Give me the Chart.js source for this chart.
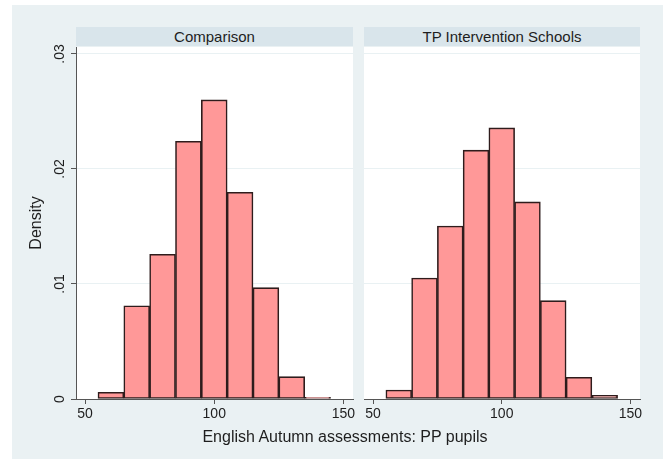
<!DOCTYPE html>
<html>
<head>
<meta charset="utf-8">
<script src="https://cdn.jsdelivr.net/npm/chart.js@4.4.0/dist/chart.umd.min.js"></script>
<style>
  html, body { margin: 0; padding: 0; background: #ffffff; }
  #stage { position: relative; width: 669px; height: 459px; overflow: hidden; font-family: "Liberation Sans", Arial, sans-serif; }
  #bg { position: absolute; left: 12px; top: 5px; width: 651px; height: 454px; background: #eaf1f3; }
  .strip { position: absolute; top: 27px; height: 19px; background: #d9e5eb; color: #1e1e1e;
           font-size: 15px; line-height: 19px; text-align: center; }
  canvas { position: absolute; top: 0; }
  #xtitle { position: absolute; left: 145px; width: 400px; top: 427px; text-align: center;
            font-size: 16px; line-height: 19px; color: #1e1e1e; }
</style>
</head>
<body>
<div id="stage">
  <div id="bg"></div>
  <div class="strip" style="left:76px;width:277px;">Comparison</div>
  <div class="strip" style="left:364px;width:276px;">TP Intervention Schools</div>
  <div style="position:absolute;left:0;top:0;width:360px;height:430px;"><canvas id="left"></canvas></div>
  <div style="position:absolute;left:340px;top:0;width:329px;height:430px;"><canvas id="right"></canvas></div>
  <div id="xtitle">English Autumn assessments: PP pupils</div>
</div>
<script>
// Histogram bins (width 10), bin midpoints
const binCenters = [60, 70, 80, 90, 100, 110, 120, 130, 140];
// Density per bin
const comparisonDensity   = [0.00058, 0.0081, 0.01258, 0.0224, 0.0260, 0.01797, 0.00968, 0.00194, 0.00015];
const interventionDensity = [0.00078, 0.01052, 0.01504, 0.02163, 0.02357, 0.01713, 0.00855, 0.00189, 0.00032];
const xTicks = [50, 100, 150];
const yTicks = [0, 0.01, 0.02, 0.03];
const panelTitles = ['Comparison', 'TP Intervention Schools'];

const FONT = '"Liberation Sans", Arial, sans-serif';
const INK = '#1e1e1e';
const AXIS = '#555555';
const GRID = '#e9f1f3';

function fmtY(v) {
  if (v === 0) return '0';
  return v.toFixed(2).replace(/^0/, '');
}

// white plot region behind the bars
const plotBg = {
  id: 'plotBg',
  beforeDraw(chart) {
    const a = chart.chartArea, ctx = chart.ctx;
    ctx.save();
    ctx.fillStyle = '#ffffff';
    ctx.fillRect(a.left, a.top, a.right - a.left, a.bottom - a.top);
    ctx.restore();
  }
};

function makePanel(id, values, showY, pad, label) {
  const pts = binCenters.map((x, i) => ({ x: x, y: values[i] }));
  return new Chart(document.getElementById(id), {
    type: 'bar',
    data: {
      datasets: [{
        label: label,
        data: pts,
        backgroundColor: '#ff9898',
        borderColor: '#2e1c1c',
        borderWidth: 1.6,
        borderSkipped: false,
        barPercentage: 1,
        categoryPercentage: 1
      }]
    },
    options: {
      responsive: true,
      maintainAspectRatio: false,
      animation: false,
      layout: { padding: pad },
      plugins: { legend: { display: false }, tooltip: { enabled: false } },
      scales: {
        x: {
          type: 'linear',
          offset: false,
          min: 46.5,
          max: 153.7,
          afterBuildTicks: s => { s.ticks = xTicks.map(v => ({ value: v })); },
          afterFit: s => { s.height = 31; },
          border: { display: true, color: AXIS, width: 1 },
          grid: { offset: false, drawOnChartArea: false, drawTicks: true, tickLength: 5, tickColor: AXIS },
          ticks: { color: INK, font: { family: FONT, size: 14 }, padding: 2, maxRotation: 0 }
        },
        y: {
          min: 0,
          max: 0.0306,
          afterBuildTicks: s => { s.ticks = yTicks.map(v => ({ value: v })); },
          afterFit: s => { s.width = showY ? 76 : 0; },
          border: { display: showY, color: AXIS, width: 1 },
          grid: {
            color: ctx => (ctx.tick && ctx.tick.value === 0) ? 'rgba(0,0,0,0)' : GRID,
            lineWidth: 1,
            drawTicks: showY,
            tickLength: 5,
            tickColor: AXIS
          },
          ticks: {
            display: showY,
            color: INK,
            font: { family: FONT, size: 14 },
            minRotation: 90,
            maxRotation: 90,
            crossAlign: 'center',
            padding: 1,
            callback: v => fmtY(v)
          },
          title: {
            display: showY,
            text: 'Density',
            color: INK,
            font: { family: FONT, size: 16 },
            padding: { top: 27, bottom: 0 }
          }
        }
      }
    },
    plugins: [plotBg]
  });
}

makePanel('left', comparisonDensity, true, { top: 47, right: 7, left: 0, bottom: 0 }, panelTitles[0]);
makePanel('right', interventionDensity, false, { top: 47, right: 29, left: 24, bottom: 0 }, panelTitles[1]);
</script>
</body>
</html>
